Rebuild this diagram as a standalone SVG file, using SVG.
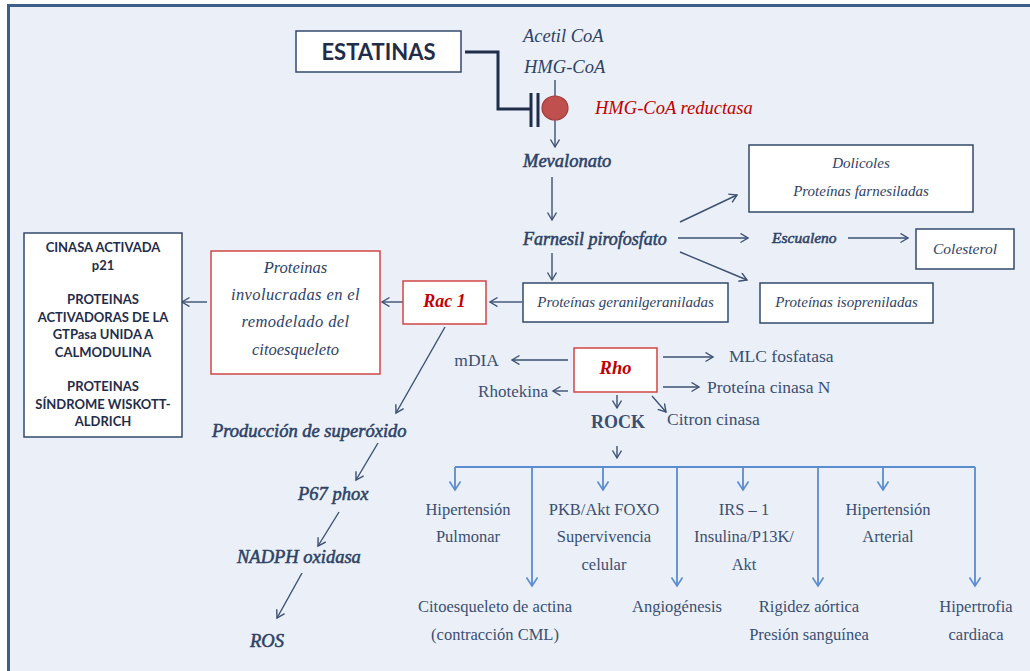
<svg xmlns="http://www.w3.org/2000/svg" width="1030" height="671" viewBox="0 0 1030 671">
  <defs>
    <marker id="arr" markerUnits="userSpaceOnUse" markerWidth="12" markerHeight="12" refX="8" refY="5" orient="auto">
      <path d="M0.5,0.5 L8,5 L0.5,9.5" fill="none" stroke="#3B5072" stroke-width="1.4"/>
    </marker>
    <marker id="arrB" markerUnits="userSpaceOnUse" markerWidth="14" markerHeight="14" refX="9" refY="6" orient="auto">
      <path d="M0.5,0.5 L9,6 L0.5,11.5" fill="none" stroke="#5B8CCF" stroke-width="1.6"/>
    </marker>
    <style>
      .it { font-family: "Liberation Serif", serif; font-style: italic; fill: #2E4266; }
      .itb { font-family: "Liberation Serif", serif; font-style: italic; fill: #2E4266; stroke: #2E4266; stroke-width: 0.55; }
      .rm { font-family: "Liberation Serif", serif; fill: #3A4F72; }
      .red { font-family: "Liberation Serif", serif; font-style: italic; font-weight: bold; fill: #C00000; }
      .sans { font-family: "Lato", "Liberation Sans", sans-serif; font-weight: bold; fill: #1F2D4A; }
      .box { fill: #FFFFFF; stroke: #33496B; stroke-width: 1.5; }
      .rbox { fill: #FFFFFF; stroke: #D04545; stroke-width: 1.5; }
      .ln { fill: none; stroke: #3B5072; stroke-width: 1.4; marker-end: url(#arr); }
      .bl { fill: none; stroke: #5B8CCF; stroke-width: 1.8; }
      .bla { fill: none; stroke: #5B8CCF; stroke-width: 1.8; marker-end: url(#arrB); }
    </style>
  </defs>

  <!-- page and frame -->
  <rect x="0" y="0" width="1030" height="671" fill="#FFFFFF"/>
  <rect x="8.5" y="5.5" width="1030" height="680" fill="#EBF0F8" stroke="#3E5F8A" stroke-width="3"/>

  <!-- connectors -->
  <g id="connectors">
    <!-- statin inhibition -->
    <path d="M465,52 H498 V109 H530" fill="none" stroke="#1F2D4A" stroke-width="3"/>
    <line x1="531" y1="93" x2="531" y2="127" stroke="#1F2D4A" stroke-width="3"/>
    <line x1="538" y1="93" x2="538" y2="127" stroke="#1F2D4A" stroke-width="3"/>
    <path class="ln" d="M555,80 V147"/>
    <path class="ln" d="M552,177 V220"/>
    <path class="ln" d="M552,253 V280"/>
    <path class="ln" d="M680,222 L737,195"/>
    <path class="ln" d="M678,238 H748"/>
    <path class="ln" d="M848,238 H908"/>
    <path class="ln" d="M680,252 L747,280"/>
    <path class="ln" d="M522,302 H490"/>
    <path class="ln" d="M403,302 H382"/>
    <path class="ln" d="M207,302 H182"/>
    <path class="ln" d="M445,327 L396,413"/>
    <path class="ln" d="M378,443 L356,480"/>
    <path class="ln" d="M339,512 L318,546"/>
    <path class="ln" d="M302,573 L277,618"/>
    <!-- Rho effectors -->
    <path class="ln" d="M568,360 H512"/>
    <path class="ln" d="M568,391 H553"/>
    <path class="ln" d="M663,357 H713"/>
    <path class="ln" d="M663,387 H699"/>
    <path class="ln" d="M617,395 V408"/>
    <path class="ln" d="M652,396 L666,412"/>
    <path class="ln" d="M617,446 V458"/>
    <!-- ROCK targets -->
    <path class="bl" d="M455,467 H975"/>
    <path class="bla" d="M455,467 V490"/>
    <path class="bla" d="M532,467 V586"/>
    <path class="bla" d="M603,467 V490"/>
    <path class="bla" d="M677,467 V586"/>
    <path class="bla" d="M743,467 V490"/>
    <path class="bla" d="M818,467 V586"/>
    <path class="bla" d="M883,467 V490"/>
    <path class="bla" d="M975,467 V586"/>
  </g>

  <g id="estatinas">
    <rect class="box" x="296" y="31" width="165" height="41" stroke="#2C4470"/>
    <text class="sans" x="378.5" y="60" font-size="22" text-anchor="middle" fill="#243B5E">ESTATINAS</text>
  </g>

  <g id="acetil-coa"><text class="it" x="523" y="42" font-size="18.5">Acetil CoA</text></g>
  <g id="hmg-coa"><text class="it" x="524" y="73" font-size="18.5">HMG-CoA</text></g>

  <g id="hmg-coa-reductasa">
    <ellipse cx="555" cy="108" rx="13" ry="12" fill="#C0504D" stroke="#A33B38" stroke-width="1.2"/>
    <text class="it" x="595" y="114" font-size="18.5" style="fill:#C00000">HMG-CoA reductasa</text>
  </g>

  <g id="mevalonato"><text class="itb" x="523" y="167" font-size="18.5">Mevalonato</text></g>
  <g id="farnesil"><text class="itb" x="523" y="245" font-size="18">Farnesil pirofosfato</text></g>

  <g id="dolicoles">
    <rect class="box" x="749" y="145" width="224" height="67"/>
    <text class="it" x="861" y="168" font-size="15" text-anchor="middle">Dolicoles</text>
    <text class="it" x="861" y="196" font-size="15" text-anchor="middle">Proteínas farnesiladas</text>
  </g>

  <g id="escualeno"><text class="itb" x="772" y="243" font-size="15.5">Escualeno</text></g>

  <g id="colesterol">
    <rect class="box" x="916" y="229" width="98" height="40"/>
    <text class="it" x="965" y="254" font-size="15.5" text-anchor="middle">Colesterol</text>
  </g>

  <g id="geranilgeraniladas">
    <rect class="box" x="523" y="283" width="205" height="39"/>
    <text class="it" x="625.5" y="307" font-size="15" text-anchor="middle">Proteínas geranilgeraniladas</text>
  </g>

  <g id="isopreniladas">
    <rect class="box" x="760" y="283" width="173" height="40"/>
    <text class="it" x="846.5" y="307" font-size="15" text-anchor="middle">Proteínas isopreniladas</text>
  </g>

  <g id="rac1">
    <rect class="rbox" x="403" y="281" width="83" height="43"/>
    <text class="red" x="444.5" y="307" font-size="18" text-anchor="middle">Rac 1</text>
  </g>

  <g id="remodelado">
    <rect class="rbox" x="211" y="251" width="169" height="123"/>
    <text class="it" x="295.5" y="273" font-size="16.5" text-anchor="middle">Proteinas</text>
    <text class="it" x="295.5" y="300" font-size="16.5" text-anchor="middle" letter-spacing="0.4">involucradas en el</text>
    <text class="it" x="295.5" y="327" font-size="16.5" text-anchor="middle" letter-spacing="0.4">remodelado del</text>
    <text class="it" x="295.5" y="355" font-size="16.5" text-anchor="middle">citoesqueleto</text>
  </g>

  <g id="efectores-rac">
    <rect class="box" x="24" y="233" width="158" height="204" stroke="#1F2D55"/>
    <g class="sans" font-size="13" text-anchor="middle">
      <text x="103" y="252">CINASA ACTIVADA</text>
      <text x="103" y="270">p21</text>
      <text x="103" y="304">PROTEINAS</text>
      <text x="103" y="322">ACTIVADORAS DE LA</text>
      <text x="103" y="339">GTPasa  UNIDA A</text>
      <text x="103" y="357">CALMODULINA</text>
      <text x="103" y="391">PROTEINAS</text>
      <text x="103" y="409">SÍNDROME WISKOTT-</text>
      <text x="103" y="426">ALDRICH</text>
    </g>
  </g>

  <g id="superoxido"><text class="itb" x="212" y="437" font-size="18.5">Producción de superóxido</text></g>
  <g id="p67phox"><text class="itb" x="298" y="500" font-size="18.5">P67 phox</text></g>
  <g id="nadph"><text class="itb" x="237" y="563" font-size="18.5">NADPH oxidasa</text></g>
  <g id="ros"><text class="itb" x="250" y="647" font-size="18.5">ROS</text></g>

  <g id="rho">
    <rect class="rbox" x="574" y="348" width="83" height="44"/>
    <text class="red" x="615.5" y="374" font-size="18.5" text-anchor="middle">Rho</text>
  </g>

  <g id="mdia"><text class="rm" x="499" y="366" font-size="17.5" text-anchor="end">mDIA</text></g>
  <g id="rhotekina"><text class="rm" x="548" y="397" font-size="17" text-anchor="end">Rhotekina</text></g>
  <g id="mlc"><text class="rm" x="729" y="362" font-size="17.5">MLC fosfatasa</text></g>
  <g id="pkn"><text class="rm" x="707" y="393" font-size="17.5">Proteína cinasa N</text></g>
  <g id="citron"><text class="rm" x="667" y="425" font-size="17.5">Citron cinasa</text></g>
  <g id="rock"><text class="rm" x="618" y="428" font-size="18" font-weight="bold" text-anchor="middle">ROCK</text></g>

  <!-- ROCK targets -->
  <g class="rm" font-size="16.5" text-anchor="middle">
    <g id="hip-pulmonar"><text x="468" y="515">Hipertensión</text><text x="468" y="542">Pulmonar</text></g>
    <g id="citoesqueleto-actina"><text x="495" y="612">Citoesqueleto de actina</text><text x="495" y="640">(contracción CML)</text></g>
    <g id="pkb"><text x="604" y="515">PKB/Akt FOXO</text><text x="604" y="542">Supervivencia</text><text x="604" y="570">celular</text></g>
    <g id="angiogenesis"><text x="677" y="612">Angiogénesis</text></g>
    <g id="irs1"><text x="744" y="515">IRS – 1</text><text x="744" y="542">Insulina/P13K/</text><text x="744" y="570">Akt</text></g>
    <g id="rigidez"><text x="809" y="612">Rigidez aórtica</text><text x="809" y="640">Presión sanguínea</text></g>
    <g id="hip-arterial"><text x="888" y="515">Hipertensión</text><text x="888" y="542">Arterial</text></g>
    <g id="hipertrofia"><text x="976" y="612">Hipertrofia</text><text x="976" y="640">cardiaca</text></g>
  </g>
</svg>
